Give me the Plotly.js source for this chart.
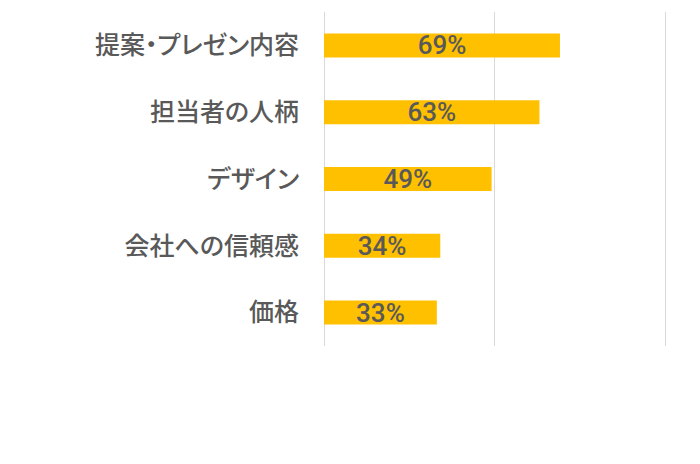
<!DOCTYPE html>
<html>
<head>
<meta charset="utf-8">
<script src="https://cdn.plot.ly/plotly-3.0.1.min.js"></script>
<style>
  html, body { margin: 0; padding: 0; background: #fff; }
  #chart { width: 700px; height: 464px; }
  /* proportional kana / punctuation like the original labels */
  #chart .ytick text { font-feature-settings: "palt"; }
</style>
</head>
<body>
<div id="chart"></div>
<script>
// data (top to bottom)
const categories = ["提案・プレゼン内容", "担当者の人柄", "デザイン", "会社への信頼感", "価格"];
const shares = [0.69, 0.63, 0.49, 0.34, 0.33];

const trace = {
  type: "bar",
  orientation: "h",
  y: categories,
  x: shares,
  width: 0.36,
  marker: { color: "#FFC000" },
  texttemplate: "%{x:.0%}",
  textposition: "inside",
  insidetextanchor: "middle",
  constraintext: "none",
  textfont: { family: "Roboto, sans-serif", size: 26, weight: 500, color: "#595959" },
  hoverinfo: "skip",
};

const layout = {
  width: 700,
  height: 464,
  margin: { l: 324, r: 33, t: 12, b: 118 },
  paper_bgcolor: "#fff",
  plot_bgcolor: "#fff",
  showlegend: false,
  xaxis: {
    // a hair past 1 so the 100% gridline is still drawn
    range: [0, 1.003],
    tickvals: [0, 0.5, 1],
    showticklabels: false,
    showgrid: true,
    gridcolor: "#d9d9d9",
    gridwidth: 1,
    zeroline: true,
    zerolinecolor: "#d9d9d9",
    zerolinewidth: 1,
    showline: false,
    fixedrange: true,
  },
  yaxis: {
    autorange: "reversed",
    showgrid: false,
    zeroline: false,
    showline: false,
    ticks: "",
    ticklabelstandoff: 24,
    tickfont: { family: "'Noto Sans CJK JP', sans-serif", size: 25, weight: 500, color: "#595959" },
    fixedrange: true,
  },
};

Plotly.newPlot("chart", [trace], layout, { displayModeBar: false, staticPlot: true });
</script>
</body>
</html>
